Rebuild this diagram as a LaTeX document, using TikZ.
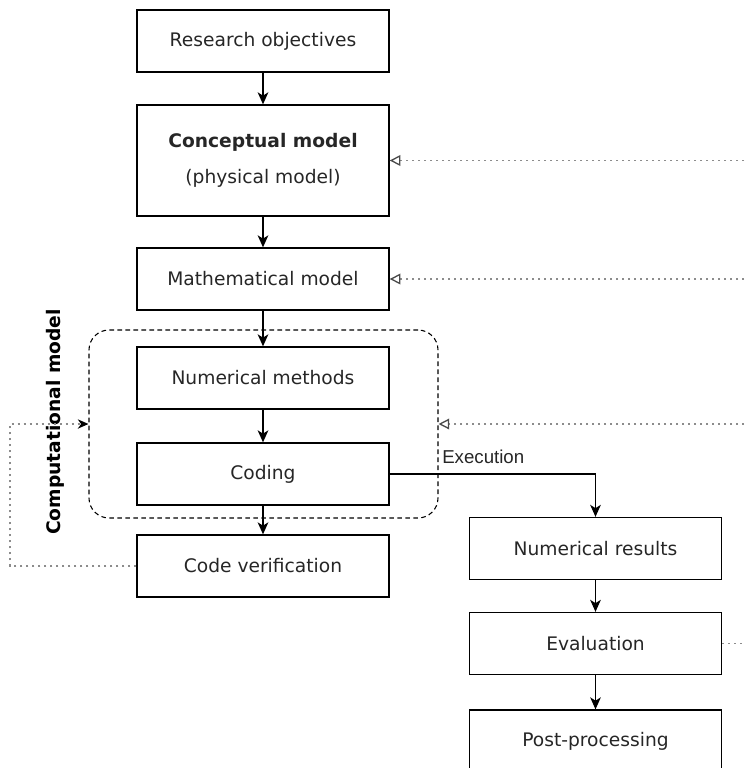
\documentclass[tikz,border=0pt]{standalone}
\usepackage{fontspec}
\setmainfont{DejaVu Sans}
\newfontfamily\execfont{Liberation Sans}
\usetikzlibrary{arrows.meta,positioning}

\tikzset{
  stepbox/.style={draw, line width=1pt, minimum width=189pt, minimum height=46.5pt,
    inner sep=0pt, align=center, font=\fontsize{14}{27.5}\selectfont, text=black!85},
  flow/.style={line width=1pt, -{Stealth[length=9pt,width=8pt,inset=2.5pt]}},
  feedback/.style={draw=black!45, line width=1pt, dash pattern=on 1.5pt off 3pt,
    -{Triangle[open,length=8pt,width=8pt,line width=1pt,color=black!70]}},
  loopback/.style={draw=black!45, line width=1pt, dash pattern=on 1.5pt off 3pt,
    -{Stealth[length=8pt,width=7pt,inset=2.5pt,color=black]}},
  compframe/.style={draw, line width=0.8pt, dash pattern=on 3.5pt off 2.5pt,
    rounded corners=15pt, minimum width=261.75pt, minimum height=141pt, inner sep=0pt},
}

\begin{document}
\begin{tikzpicture}[x=0.75pt,y=0.75pt,yscale=-1,xscale=1]
  \useasboundingbox (0,0) rectangle (744,768);

  % Main column
  \node [stepbox] (research) at (263,41) {Research objectives};
  \node [stepbox, minimum height=83.25pt] (concept) at (263,160.5) {\textbf{Conceptual model}\\(physical model)};
  \node [stepbox] (math) at (263,279) {Mathematical model};
  % Computational model frame
  \node [compframe] (compbox) at (263.5,424) {};
  \node [font=\bfseries\fontsize{14}{16}\selectfont, rotate=90, text=black] (complabel) at (55,422) {Computational model};
  \node [stepbox] (nummeth) at (263,378) {Numerical methods};
  \node [stepbox] (coding) at (263,474) {Coding};
  \node [stepbox] (codever) at (263,566) {Code verification};

  % Right column
  \node [stepbox] (numres) at (595.5,548.5) {Numerical results};
  \node [stepbox] (evalu) at (595.5,643.5) {Evaluation};
  \node [stepbox] (postproc) at (595.5,741) {Post-processing};

  % Flow arrows
  \draw [flow] (research) -- (concept);
  \draw [flow] (concept) -- (math);
  \draw [flow] (math) -- (nummeth);
  \draw [flow] (nummeth) -- (coding);
  \draw [flow] (coding) -- (codever);
  \draw [flow] (coding.east) -| (numres.north);
  \node [anchor=west, font=\execfont\fontsize{14}{16}\selectfont, text=black!85, inner sep=0pt] (execlabel) at (442,457) {Execution};
  \draw [flow] (numres) -- (evalu);
  \draw [flow] (evalu) -- (postproc);

  % Feedback lines
  \coordinate (redge) at (744,0);
  \coordinate (ledge) at (10,0);
  \draw [feedback] (redge |- concept.east) -- (concept.east);
  \draw [feedback] (redge |- math.east) -- (math.east);
  \draw [feedback] (redge |- compbox.east) -- (compbox.east);
  \draw [feedback, -] (evalu.east) -- (redge |- evalu.east);
  \draw [loopback] (codever.west) -- (ledge |- codever.west) -- (ledge |- compbox.west) -- (compbox.west);
\end{tikzpicture}
\end{document}
